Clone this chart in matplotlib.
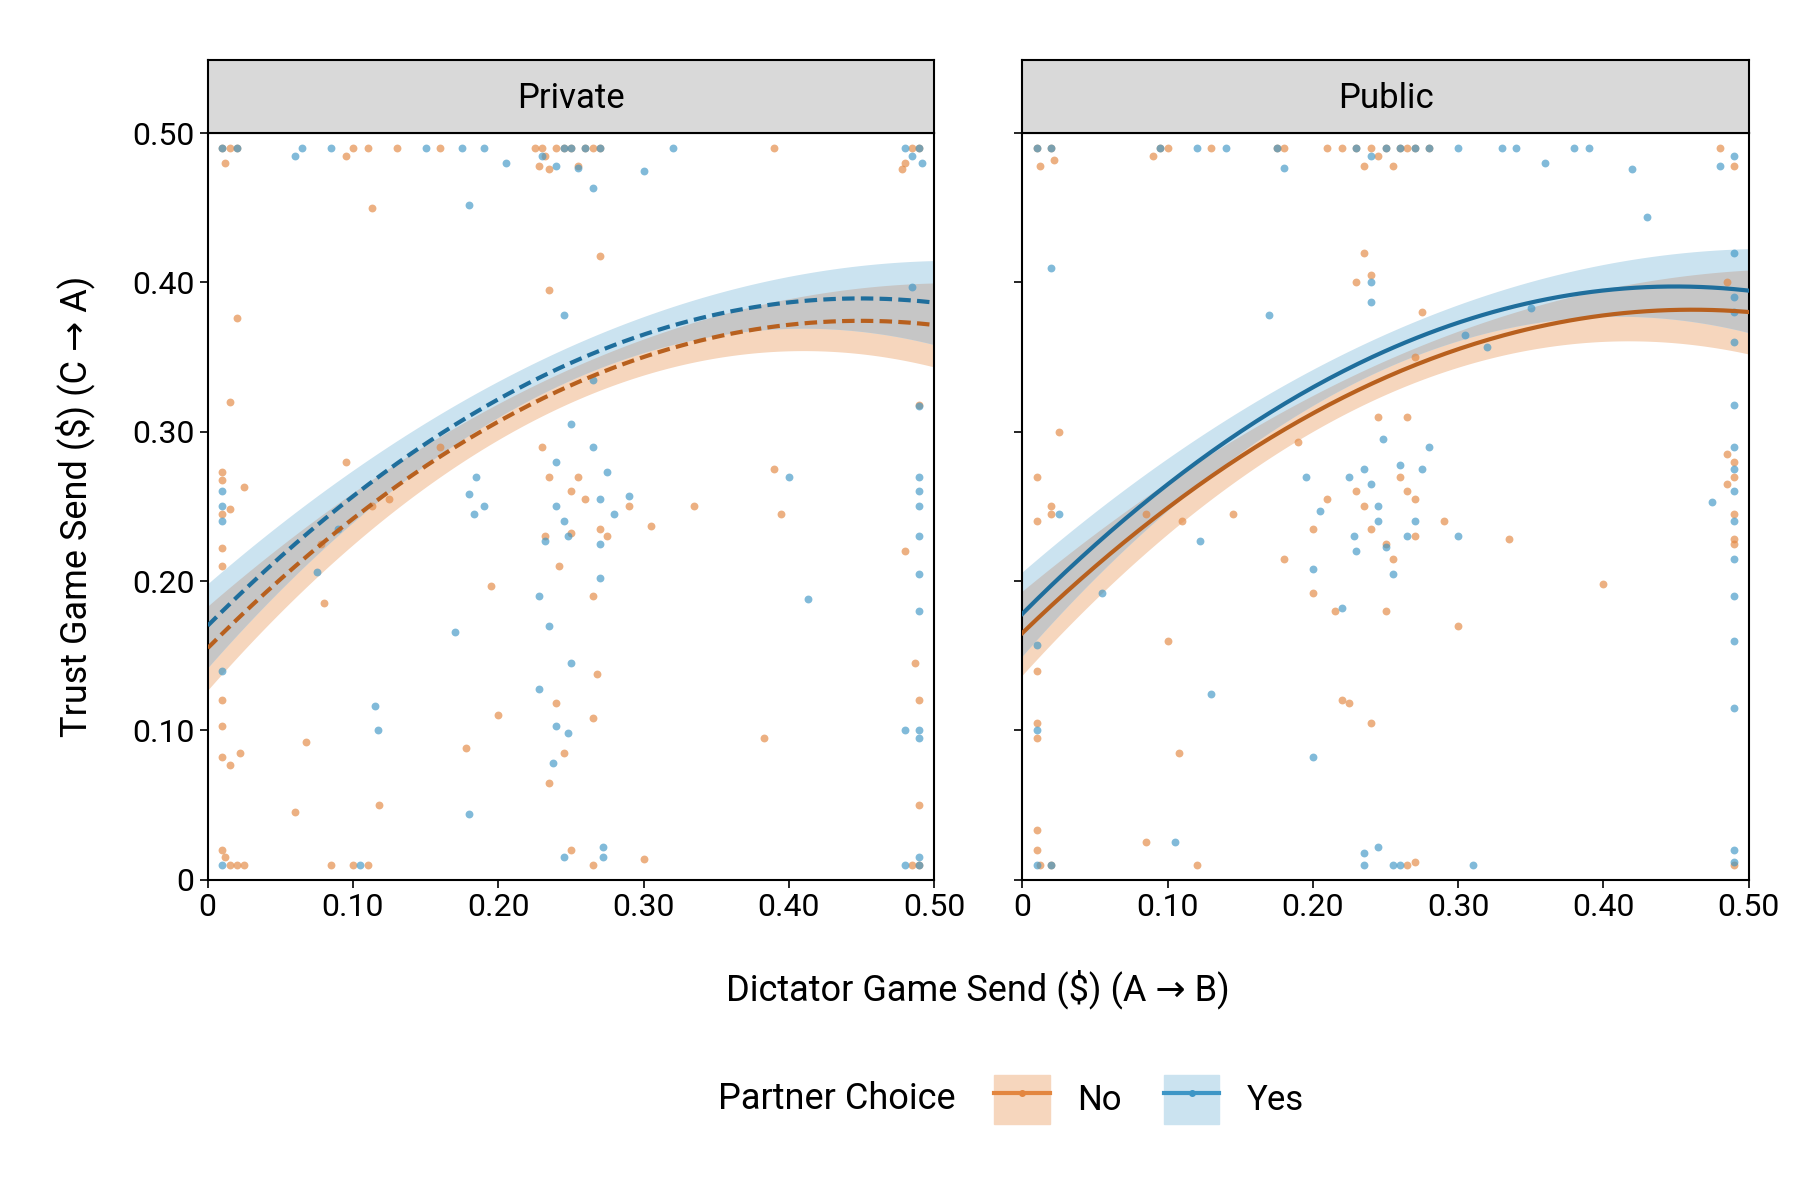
import numpy as np
import matplotlib
matplotlib.use("Agg")
import matplotlib.pyplot as plt
from matplotlib.patches import Patch
from matplotlib.lines import Line2D

plt.rcParams["font.family"] = ["DejaVu Sans Condensed", "Liberation Sans Narrow", "Roboto", "DejaVu Sans"]

panels = ["Private", "Public"]
groups = ["No", "Yes"]

# fitted curves read at x = 0, 0.05, ..., 0.50
fit_x = [0, .05, .10, .15, .20, .25, .30, .35, .40, .45, .50]
fit_y = {
    ("Private", "No"): [.155, .201, .242, .277, .307, .331, .350, .364, .371, .374, .372],
    ("Private", "Yes"): [.170, .216, .257, .292, .322, .346, .365, .379, .386, .389, .387],
    ("Public", "No"): [.165, .210, .249, .283, .312, .337, .355, .369, .378, .382, .380],
    ("Public", "Yes"): [.178, .224, .265, .300, .330, .354, .373, .387, .394, .397, .395],
}
ci_half = [.028, .022, .018, .014, .012, .011, .012, .014, .018, .022, .028]

top_x = {
    ("Private", "No"): [.01, .012, .015, .02, .095, .1, .11, .13, .16, .225, .228, .23, .232, .235, .24,
                        .245, .25, .255, .26, .265, .27, .39, .48, .485, .49, .478],
    ("Private", "Yes"): [.01, .02, .06, .065, .085, .15, .175, .19, .205, .23, .24, .245, .25, .26, .27,
                         .3, .32, .48, .485, .49, .492, .255],
    ("Public", "No"): [.01, .012, .02, .022, .09, .095, .1, .13, .175, .18, .21, .22, .23, .235, .24, .245,
                       .25, .255, .26, .265, .27, .28, .48, .49],
    ("Public", "Yes"): [.01, .02, .095, .12, .14, .175, .18, .23, .24, .25, .26, .27, .28, .3, .33, .34,
                        .36, .38, .39, .42, .48, .49],
}
top_y = {
    ("Private", "No"): [.49, .48, .49, .49, .485, .49, .49, .49, .49, .49, .478, .49, .485, .476, .49,
                        .49, .49, .478, .49, .49, .49, .49, .48, .49, .49, .476],
    ("Private", "Yes"): [.49, .49, .485, .49, .49, .49, .49, .49, .48, .485, .478, .49, .49, .49, .49,
                         .475, .49, .49, .485, .49, .48, .477],
    ("Public", "No"): [.49, .478, .49, .482, .485, .49, .49, .49, .49, .49, .49, .49, .49, .478, .49, .485,
                       .49, .478, .49, .49, .49, .49, .49, .478],
    ("Public", "Yes"): [.49, .49, .49, .49, .49, .49, .477, .49, .485, .49, .49, .49, .49, .49, .49, .49,
                        .48, .49, .49, .476, .478, .485],
}
pts = {
    ("Private", "No"): [(.27, .418), (.113, .45), (.02, .376), (.235, .395), (.015, .32), (.01, .273), (.01, .268),
                        (.025, .263), (.01, .245), (.015, .248), (.01, .222), (.01, .21), (.01, .12), (.01, .103),
                        (.01, .082), (.015, .077), (.022, .085), (.01, .02), (.012, .015), (.015, .01), (.02, .01),
                        (.025, .01), (.06, .045), (.068, .092), (.078, .225), (.08, .185), (.085, .01), (.1, .01),
                        (.095, .28), (.113, .25), (.11, .01), (.118, .05), (.125, .255), (.16, .29), (.178, .088),
                        (.195, .197), (.2, .11), (.23, .29), (.235, .27), (.232, .23), (.235, .065), (.24, .118),
                        (.242, .21), (.245, .085), (.25, .26), (.25, .232), (.255, .27), (.26, .255), (.265, .19),
                        (.265, .108), (.268, .138), (.265, .01), (.25, .02), (.27, .235), (.275, .23), (.29, .25),
                        (.305, .237), (.3, .014), (.335, .25), (.383, .095), (.39, .275), (.395, .245), (.48, .22),
                        (.487, .145), (.49, .12), (.49, .05), (.49, .01), (.485, .01), (.49, .318)],
    ("Private", "Yes"): [(.265, .463), (.18, .452), (.245, .378), (.01, .26), (.01, .24), (.01, .25), (.01, .14),
                         (.01, .01), (.075, .206), (.09, .235), (.105, .01), (.115, .116), (.117, .1), (.17, .166),
                         (.18, .044), (.18, .258), (.183, .245), (.185, .27), (.19, .25), (.228, .128), (.228, .19),
                         (.232, .227), (.235, .17), (.24, .28), (.24, .25), (.245, .24), (.248, .23), (.25, .145),
                         (.248, .098), (.238, .078), (.24, .103), (.245, .015), (.25, .305), (.265, .335),
                         (.265, .29), (.27, .255), (.27, .202), (.27, .225), (.272, .015), (.275, .273), (.272, .022),
                         (.28, .245), (.29, .257), (.4, .27), (.413, .188), (.48, .1), (.48, .01), (.485, .397),
                         (.49, .27), (.49, .26), (.49, .25), (.49, .23), (.49, .205), (.49, .18), (.49, .1),
                         (.49, .095), (.49, .015), (.49, .01), (.49, .317)],
    ("Public", "No"): [(.01, .27), (.01, .24), (.02, .25), (.025, .3), (.02, .245), (.01, .14), (.01, .105),
                       (.01, .095), (.01, .033), (.01, .02), (.012, .01), (.02, .01), (.085, .025), (.085, .245),
                       (.1, .16), (.108, .085), (.11, .24), (.12, .01), (.145, .245), (.18, .215), (.19, .293),
                       (.2, .192), (.2, .235), (.21, .255), (.215, .18), (.22, .12), (.225, .118), (.23, .4),
                       (.235, .42), (.24, .405), (.24, .105), (.23, .26), (.235, .25), (.24, .235), (.245, .31),
                       (.25, .18), (.25, .225), (.255, .215), (.26, .27), (.265, .31), (.265, .26), (.265, .01),
                       (.27, .255), (.27, .23), (.27, .35), (.27, .012), (.275, .38), (.29, .24), (.3, .17),
                       (.335, .228), (.4, .198), (.485, .4), (.485, .285), (.485, .265), (.49, .28), (.49, .27),
                       (.49, .245), (.49, .228), (.49, .225), (.49, .01)],
    ("Public", "Yes"): [(.43, .444), (.02, .41), (.01, .157), (.01, .1), (.01, .01), (.02, .01), (.025, .245),
                        (.055, .192), (.105, .025), (.122, .227), (.13, .124), (.17, .378), (.195, .27), (.2, .208),
                        (.2, .082), (.205, .247), (.22, .182), (.225, .27), (.228, .23), (.23, .22), (.235, .275),
                        (.24, .4), (.24, .387), (.24, .265), (.245, .25), (.245, .24), (.248, .295), (.25, .223),
                        (.255, .205), (.26, .278), (.265, .23), (.27, .24), (.275, .275), (.28, .29), (.3, .23),
                        (.305, .365), (.31, .01), (.32, .357), (.35, .383), (.235, .018), (.245, .022), (.235, .01),
                        (.255, .01), (.26, .01), (.475, .253), (.49, .42), (.49, .39), (.49, .38), (.49, .36),
                        (.49, .318), (.49, .29), (.49, .275), (.49, .26), (.49, .24), (.49, .215), (.49, .19),
                        (.49, .16), (.49, .115), (.49, .02), (.49, .012)],
}

pt_col = {"No": "#e3863f", "Yes": "#3d96c6"}
ln_col = {"No": "#b8601e", "Yes": "#1f6e9c"}
band_col = {"No": "#f6d6bd", "Yes": "#cbe3f0"}
ticks = [0, .1, .2, .3, .4, .5]
tlabels = ["0", "0.10", "0.20", "0.30", "0.40", "0.50"]

fig = plt.figure(figsize=(18, 12), dpi=100)
lefts = [0.1154, 0.568]
grid = np.linspace(0, 0.5, 200)
# smooth the read-off curve and band width with a quadratic fit
hw = np.polyval(np.polyfit(fit_x, ci_half, 2), grid)
for i, panel in enumerate(panels):
    ax = fig.add_axes([lefts[i], 0.267, 0.4035, 0.622])
    lo, hi, sm = {}, {}, {}
    for g in groups:
        sm[g] = np.polyval(np.polyfit(fit_x, fit_y[(panel, g)], 2), grid)
        lo[g], hi[g] = sm[g] - hw, sm[g] + hw
        ax.fill_between(grid, lo[g], hi[g], color=band_col[g], lw=0, zorder=1)
    ax.fill_between(grid, np.maximum(lo["No"], lo["Yes"]), np.minimum(hi["No"], hi["Yes"]),
                    color="#c6c6c6", lw=0, zorder=1.5)
    for g in groups:
        xs = top_x[(panel, g)] + [p[0] for p in pts[(panel, g)]]
        ys = top_y[(panel, g)] + [p[1] for p in pts[(panel, g)]]
        ax.scatter(xs, ys, s=32, color=pt_col[g], alpha=0.65, lw=0, zorder=2)
    for g in groups:
        ax.plot(grid, sm[g], color=ln_col[g], lw=3,
                ls=(0, (3, 1.5)) if panel == "Private" else "-", zorder=3)
    ax.set_xlim(0, 0.5)
    ax.set_ylim(0, 0.5)
    ax.set_xticks(ticks)
    ax.set_xticklabels(tlabels, fontsize=23)
    ax.set_yticks(ticks)
    ax.set_yticklabels(tlabels if i == 0 else [], fontsize=23)
    ax.tick_params(length=6, width=1.2)
    for s in ax.spines.values():
        s.set_linewidth(1.5)
    sax = fig.add_axes([lefts[i], 0.889, 0.4035, 0.0606])
    sax.set_facecolor("#d9d9d9")
    sax.set_xticks([])
    sax.set_yticks([])
    for s in sax.spines.values():
        s.set_linewidth(1.5)
    sax.text(0.5, 0.48, panel, ha="center", va="center", fontsize=25, transform=sax.transAxes)

fig.text(0.543, 0.176, "Dictator Game Send ($) (A → B)", ha="center", va="center", fontsize=26)
fig.text(0.042, 0.578, "Trust Game Send ($) (C → A)", ha="center", va="center", fontsize=26, rotation=90)

handles = [(Patch(color=band_col[g]), Line2D([], [], color=pt_col[g], lw=3, marker="o", ms=4)) for g in groups]
fig.text(0.531, 0.084, "Partner Choice", ha="right", va="center", fontsize=26)
fig.legend(handles, groups, loc="center left", bbox_to_anchor=(0.535, 0.084), ncol=2, frameon=False,
           fontsize=25, handlelength=1.6, handleheight=1.8, handletextpad=0.8, columnspacing=1.2)

plt.savefig("out.png", dpi=100)
